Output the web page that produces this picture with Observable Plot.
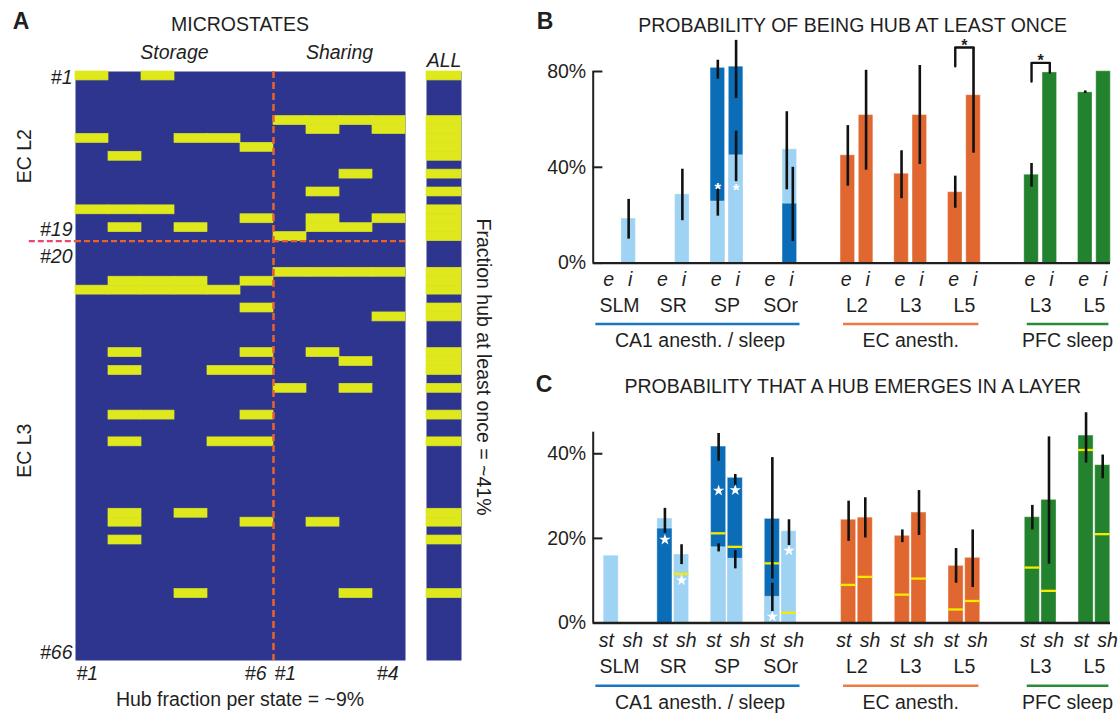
<!DOCTYPE html>
<html><head><meta charset="utf-8">
<script src="https://cdn.jsdelivr.net/npm/d3@7"></script>
<script src="https://cdn.jsdelivr.net/npm/@observablehq/plot@0.6"></script>
<style>
body{margin:0;background:#fff;}
#fig{position:relative;width:1119px;height:714px;overflow:hidden;font-family:"Liberation Sans",Arial,Helvetica,sans-serif;color:#1f1f1f;}
#fig svg{overflow:visible;}
.lbl{position:absolute;white-space:nowrap;transform:translate(-50%,-50%);font-size:19.5px;line-height:1;}
.letter{font-weight:bold;font-size:23px;}
</style></head><body><div id="fig"></div>
<script>
// ================= DATA =================
// Panel A: microstates heat map
const storageStates = ["#1","#2","#3","#4","#5","#6"];
const sharingStates = ["#1","#2","#3","#4"];
const cellGroups = ["EC L2","EC L3"];
const cellGroupSizes = [19, 47];
const yLabelRows = [1, 19, 20, 66];
// rows (cells) that are hub in at least one state, and the states where they are hub
const hubRows    = [1, 6, 7, 8, 9, 10, 12, 14, 16, 17, 18, 19, 23, 24, 25, 27, 28, 32, 33, 34, 36, 39, 42, 50, 51, 53, 59];
const hubStorage = [[1,3],[],[],[1,4,5],[6],[2],[],[],[1,2,3],[6],[2,4],[],[],[2,3,4,6],[1,2,3,4,5],[6],[],[2,6],[],[2,5,6],[],[2,3,6],[2,5,6],[2,4],[2,6],[2],[4]];
const hubSharing = [[],[1,2,3,4],[2,4],[],[],[],[3],[2],[],[2,4],[2,3],[1],[1,2,3,4],[],[],[],[4],[2],[3],[],[1,3],[],[],[],[2],[],[3]];

// Panels B & C: layout categories
const regionNames = ["CA1 anesth. / sleep", "EC anesth.", "PFC sleep"];
const regionLayers = [["SLM","SR","SP","SOr"], ["L2","L3","L5"], ["L3","L5"]];
const typesB = ["e","i"];
const typesC = ["st","sh"];
const yTicksB = [0, 40, 80];
const yTicksC = [0, 20, 40];

// Panel B: probability of being hub at least once (%)
// CA1: [layer, type, shade, mean, low, high]
const onceCA1 = [
  ["SLM","i","light",18.6,10,26.6],
  ["SR","i","light",28.7,17.7,39.2],
  ["SP","e","dark",81.5,76.8,84.7],
  ["SP","e","light",25.7,19.6,31],
  ["SP","i","dark",82,68.7,93],
  ["SP","i","light",45,34,55.1],
  ["SOr","i","light",47.5,30.6,63.2],
  ["SOr","i","dark",24.8,9,40]
];
// [layer, type, mean, low, high]
const onceEC = [
  ["L2","e",45,32.1,57.4], ["L2","i",61.8,38.8,80.5],
  ["L3","e",37.3,26.9,46.9], ["L3","i",61.8,41.2,82.5],
  ["L5","e",29.6,22.9,36.3], ["L5","i",70.1,45.9,90]
];
const oncePFC = [
  ["L3","e",36.9,31.7,41.6], ["L3","i",79.6,null,null],
  ["L5","e",71.3,70.8,71.9], ["L5","i",80.1,null,null]
];
const onceStars = [[0,"SP","e",33],[0,"SP","i",32.3]];
// [region, layer, left leg bottom, bracket top, right leg bottom]
const onceSig = [[1,"L5",82.2,90,90],[2,"L3",75.8,83.6,79.6]];

// Panel C: probability that a hub emerges in a layer (%)
// CA1: [layer, type, shade, mean, low, high, chance]
const emergeCA1 = [
  ["SLM","st","light",15.9,null,null,null],
  ["SR","st","light",24.7,21.2,27.1,null],
  ["SR","st","dark",22.3,null,null,null],
  ["SR","sh","light",16.2,13.8,18.5,11.6],
  ["SP","st","dark",41.7,38.2,44.8,21.2],
  ["SP","st","light",17.9,16.8,18.7,null],
  ["SP","sh","dark",34.3,32.4,35.1,18],
  ["SP","sh","light",15.2,12.8,17.1,null],
  ["SOr","st","dark",24.6,10.4,39.1,14.1],
  ["SOr","st","light",6.2,2.7,9.4,null],
  ["SOr","sh","light",21.7,18.3,24.4,2.4]
];
// [layer, type, mean, low, high, chance]
const emergeEC = [
  ["L2","st",24.4,19.3,28.8,9], ["L2","sh",24.9,20.1,29.6,10.9],
  ["L3","st",20.6,19,22,6.7], ["L3","sh",26.1,20.7,31.3,10.5],
  ["L5","st",13.5,9.4,17.6,3.2], ["L5","sh",15.4,8.4,22,5.2]
];
const emergePFC = [
  ["L3","st",25,22,27.8,13.1], ["L3","sh",29.1,13.9,44,7.6],
  ["L5","st",44.3,37.8,49.7,40.9], ["L5","sh",37.3,34.1,39.7,21]
];
const emergeStars = [[0,"SR","st",19.7],[0,"SR","sh",10.1],[0,"SP","st",31.3],[0,"SP","sh",31.4],[0,"SOr","st",1.5],[0,"SOr","sh",17.1]];

// ================= STYLE =================
const FONT = '"Liberation Sans", Arial, Helvetica, sans-serif';
const INK = "#1f1f1f";
const HM_BLUE = "#2e358f", HM_YELLOW = "#dfe81c", DASH = "#e8622c", DASH_LEFT = "#e9476c";
const C_LIGHT = "#9fd3f4", C_DARK = "#0b6cb8", C_EC = "#e0672f", C_PFC = "#22822d";
const REGION_LINE = ["#1b76c2", "#eb7a43", "#2b8c38"];
const REGION_PAD = [[0.44, 0.36], [0.25, 0.27], [0.25, 0.27]];
const REGION_GAP = 0.42;
const X_DOMAIN = [-0.49, 9.14];
const ERR_SPLIT = 0.056;

const fig = document.getElementById("fig");
function put(node, left, top) {
  node.style.position = "absolute"; node.style.left = left + "px"; node.style.top = top + "px";
  fig.appendChild(node);
}
function label(text, x, y, cls = "", extra = "") {
  const d = document.createElement("div");
  d.className = "lbl " + cls; d.textContent = text;
  d.style.left = x + "px"; d.style.top = y + "px";
  if (extra) d.style.transform = "translate(-50%,-50%) " + extra;
  fig.appendChild(d);
}

// ================= PANEL A =================
const nRows = d3.sum(cellGroupSizes);
const nStorage = storageStates.length;
const nCols = nStorage + sharingStates.length;
const cells = [];
hubRows.forEach((r, i) => {
  hubStorage[i].forEach(c => cells.push({row: r, col: c - 1}));
  hubSharing[i].forEach(c => cells.push({row: r, col: nStorage + c - 1}));
});
const anyRows = hubRows.filter((r, i) => hubStorage[i].length + hubSharing[i].length > 0);
const headers = [{name: "Storage", x: nStorage / 2}, {name: "Sharing", x: nStorage + sharingStates.length / 2}];
const groupsY = cellGroups.map((g, i) => ({name: g, y: d3.sum(cellGroupSizes.slice(0, i)) + cellGroupSizes[i] / 2}));
const colStart = [{t: storageStates[0], x: 0}, {t: sharingStates[0], x: nStorage}];
const colEnd = [{t: storageStates[nStorage - 1], x: nStorage}, {t: sharingStates[sharingStates.length - 1], x: nCols}];
const yLabelDy = [1.5, -7, 11.5, -3];

const hmStyle = {fontFamily: FONT, fontSize: "19.5px", color: INK, background: "transparent", overflow: "visible"};
const heat = Plot.plot({
  width: 500, height: 714, marginLeft: 75, marginRight: 95, marginTop: 71, marginBottom: 54,
  style: hmStyle,
  x: {domain: [0, nCols], range: [75, 405], axis: null},
  y: {domain: [0, nRows], range: [71, 660], axis: null},
  marks: [
    Plot.frame({fill: HM_BLUE, stroke: null}),
    Plot.rect(cells, {x1: d => d.col, x2: d => d.col + 1, y1: d => d.row - 1, y2: d => d.row, fill: HM_YELLOW, stroke: HM_YELLOW, strokeWidth: 0.7}),
    Plot.ruleX([nStorage], {y1: 0, y2: nRows, stroke: DASH, strokeWidth: 2.5, strokeDasharray: "7,4"}),
    Plot.ruleY([cellGroupSizes[0]], {x1: 0, x2: nCols, stroke: DASH, strokeWidth: 2.2, strokeDasharray: "6,3"}),
    Plot.ruleY([cellGroupSizes[0]], {x1: -1.4, x2: 0, stroke: DASH_LEFT, strokeWidth: 2.2, strokeDasharray: "6,3"}),
    Plot.text(headers, {x: "x", y: 0, dy: -18.3, text: "name", fontStyle: "italic"}),
    Plot.text(groupsY, {x: 0, y: "y", dx: -51, rotate: -90, text: "name"}),
    Plot.text(colStart, {x: "x", y: nRows, dy: 13, dx: 1, text: "t", textAnchor: "start", fontStyle: "italic"}),
    Plot.text(colEnd, {x: "x", y: nRows, dy: 13, dx: -7, text: "t", textAnchor: "end", fontStyle: "italic"}),
    ...yLabelRows.map((r, i) => Plot.text([r], {x: 0, y: d => d - 0.5, dx: -3, dy: yLabelDy[i], text: d => "#" + d, textAnchor: "end", fontStyle: "italic"}))
  ]
});
put(heat, 0, 0);

const allCol = Plot.plot({
  width: 35, height: 714, marginLeft: 0, marginRight: 0, marginTop: 71, marginBottom: 54,
  style: hmStyle,
  y: {domain: [0, nRows], range: [71, 660], axis: null},
  marks: [
    Plot.frame({fill: HM_BLUE, stroke: null}),
    Plot.rect(anyRows, {y1: d => d - 1, y2: d => d, fill: HM_YELLOW, stroke: HM_YELLOW, strokeWidth: 0.7}),
    Plot.text(["ALL"], {frameAnchor: "top", dy: -18.3, text: d => d, fontStyle: "italic"})
  ]
});
put(allCol, 426, 0);

// ================= PANELS B & C =================
const layerSlots = [];
{
  let gi = 0;
  regionLayers.forEach((ls, ri) => ls.forEach(l => { layerSlots.push({region: ri, layer: l, pos: gi + ri * REGION_GAP}); gi++; }));
}
const posOf = (ri, layer) => layerSlots.find(s => s.region === ri && s.layer === layer).pos;
const regionInfo = regionNames.map((name, ri) => {
  const ps = layerSlots.filter(s => s.region === ri).map(s => s.pos);
  const a = d3.min(ps), b = d3.max(ps);
  return {name, x1: a - REGION_PAD[ri][0], x2: b + REGION_PAD[ri][1], center: (a + b) / 2, color: REGION_LINE[ri]};
});

function buildBars(ca1, ec, pfc, types, off) {
  const xOf = (ri, layer, type) => posOf(ri, layer) + (type === types[0] ? -off : off);
  const out = [];
  ca1.forEach(([layer, type, shade, v, lo, hi, ch]) => out.push({ri: 0, layer, type, fill: shade === "dark" ? C_DARK : C_LIGHT, value: v, lo, hi, chance: ch ?? null, x: xOf(0, layer, type)}));
  ec.forEach(([layer, type, v, lo, hi, ch]) => out.push({ri: 1, layer, type, fill: C_EC, value: v, lo, hi, chance: ch ?? null, x: xOf(1, layer, type)}));
  pfc.forEach(([layer, type, v, lo, hi, ch]) => out.push({ri: 2, layer, type, fill: C_PFC, value: v, lo, hi, chance: ch ?? null, x: xOf(2, layer, type)}));
  out.forEach(d => d.edx = 0);
  const groups = d3.group(out.filter(d => d.lo != null), d => d.x);
  for (const g of groups.values()) {
    if (g.length === 2) {
      const [a, b] = g.sort((p, q) => q.hi - p.hi);
      if (b.hi > a.lo) { a.edx = -ERR_SPLIT; b.edx = ERR_SPLIT; }
    }
  }
  return out.sort((a, b) => b.value - a.value);
}

function barPanel(cfg) {
  const {bars, types, labelOff, half, yDomain, yTicks, yRange, height, labelDy, starMarks, extraMarks = []} = cfg;
  const typeSlots = layerSlots.flatMap(s => types.map((t, k) => ({t, x: s.pos + (k ? labelOff : -labelOff)})));
  const TICK = 0.18;
  return Plot.plot({
    width: 619, height, marginLeft: 92.7, marginRight: 9, marginTop: yRange[1], marginBottom: height - yRange[0],
    style: {fontFamily: FONT, fontSize: "19.5px", color: INK, background: "transparent", overflow: "visible"},
    color: {type: "identity"},
    x: {domain: X_DOMAIN, range: [92.7, 610], axis: null},
    y: {domain: yDomain, range: yRange, ticks: yTicks, tickFormat: d => d + "%", tickSize: 0, tickPadding: 7, label: null},
    marks: [
      Plot.rect(bars, {x1: d => d.x - half, x2: d => d.x + half, y1: 0, y2: "value", fill: "fill", stroke: "#ffffff", strokeOpacity: 0.35, strokeWidth: 1}),
      Plot.ruleY(bars.filter(d => d.chance != null), {y: "chance", x1: d => d.x - half, x2: d => d.x + half, stroke: "#f5ea00", strokeWidth: 2.3}),
      Plot.ruleX(bars.filter(d => d.lo != null), {x: d => d.x + d.edx, y1: "lo", y2: "hi", stroke: "#111", strokeWidth: 2.6}),
      ...starMarks,
      ...extraMarks,
      Plot.ruleX([X_DOMAIN[0]], {y1: 0, y2: yDomain[1], stroke: INK, strokeWidth: 2}),
      Plot.ruleY(yTicks, {x1: X_DOMAIN[0], x2: X_DOMAIN[0] + TICK, stroke: INK, strokeWidth: 2}),
      Plot.ruleY([0], {x1: X_DOMAIN[0], x2: X_DOMAIN[1], stroke: INK, strokeWidth: 2.4}),
      Plot.text(typeSlots, {x: "x", y: 0, dy: labelDy[0], text: "t", fontStyle: "italic"}),
      Plot.text(layerSlots, {x: "pos", y: 0, dy: labelDy[1], text: "layer"}),
      Plot.ruleY(regionInfo, {y: 0, dy: labelDy[2], x1: "x1", x2: "x2", stroke: "color", strokeWidth: 2.5}),
      Plot.text(regionInfo, {x: "center", y: 0, dy: labelDy[3], text: "name"})
    ]
  });
}

// ---- Panel B ----
const offB = 0.17;
const barsB = buildBars(onceCA1, onceEC, oncePFC, typesB, offB);
const starXB = d => posOf(d[0], d[1]) + (d[2] === typesB[0] ? -offB : offB);
const sigPts = onceSig.flatMap(([ri, layer, l, t, r], k) => {
  const p = posOf(ri, layer);
  return [{id: k, x: p - offB, y: l}, {id: k, x: p - offB, y: t}, {id: k, x: p + offB, y: t}, {id: k, x: p + offB, y: r}];
});
const panelB = barPanel({
  bars: barsB, types: typesB, labelOff: 0.2, half: 0.135,
  yDomain: [0, 80], yTicks: yTicksB, yRange: [262.6, 71], height: 360,
  labelDy: [17, 42.5, 61, 78],
  starMarks: [Plot.text(onceStars, {x: starXB, y: d => d[3], dy: 5, text: () => "*", fill: "white", fontSize: 17, fontWeight: "bold"})],
  extraMarks: [
    Plot.line(sigPts, {x: "x", y: "y", z: "id", stroke: "#111", strokeWidth: 2.4}),
    Plot.text(onceSig, {x: d => posOf(d[0], d[1]), y: d => d[3], dy: -2, text: () => "*", fontSize: 16, fontWeight: "bold"})
  ]
});
put(panelB, 500, 0);

// ---- Panel C ----
const offC = 0.155;
const barsC = buildBars(emergeCA1, emergeEC, emergePFC, typesC, offC);
const starXC = d => posOf(d[0], d[1]) + (d[2] === typesC[0] ? -offC : offC);
const panelC = barPanel({
  bars: barsC, types: typesC, labelOff: 0.245, half: 0.14,
  yDomain: [0, 45.1], yTicks: yTicksC, yRange: [262.5, 71.7], height: 354,
  labelDy: [17.5, 44.2, 62.8, 80.2],
  starMarks: [Plot.dot(emergeStars, {x: starXC, y: d => d[3], symbol: "star", r: 3.6, fill: "white", stroke: null})]
});
put(panelC, 500, 360);

// ================= TEXT =================
label("A", 21, 21, "letter");
label("B", 545, 21, "letter");
label("C", 544, 383.5, "letter");
label("MICROSTATES", 240, 25);
label("PROBABILITY OF BEING HUB AT LEAST ONCE", 852.6, 25.5);
label("PROBABILITY THAT A HUB EMERGES IN A LAYER", 852.7, 386.5);
label("Hub fraction per state = ~9%", 240, 700);
label("Fraction hub at least once = ~41%", 483, 367, "", "rotate(90deg)");
</script></body></html>
